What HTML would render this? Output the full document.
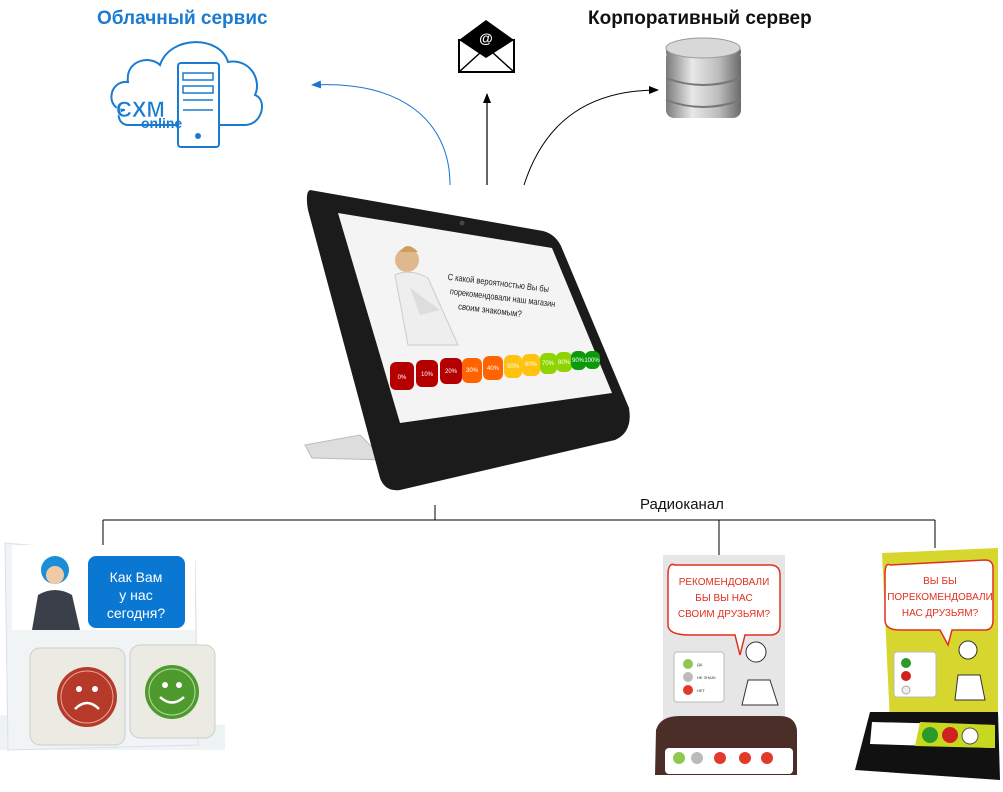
<!DOCTYPE html>
<html><head><meta charset="utf-8"><style>
body{margin:0;background:#fff;width:1003px;height:787px;overflow:hidden;font-family:"Liberation Sans",sans-serif}
</style></head><body>
<svg width="1003" height="787" viewBox="0 0 1003 787" xmlns="http://www.w3.org/2000/svg" font-family="Liberation Sans, sans-serif">
<defs>
<marker id="ab" markerWidth="10" markerHeight="8" refX="9" refY="4" orient="auto" markerUnits="userSpaceOnUse"><path d="M0,0L10,4L0,8z" fill="#1a73d0"/></marker>
<marker id="ak" markerWidth="10" markerHeight="8" refX="9" refY="4" orient="auto" markerUnits="userSpaceOnUse"><path d="M0,0L10,4L0,8z" fill="#000"/></marker>
<linearGradient id="db" x1="0" x2="1"><stop offset="0" stop-color="#7a7a7a"/><stop offset=".35" stop-color="#e8e8e8"/><stop offset=".7" stop-color="#bdbdbd"/><stop offset="1" stop-color="#6a6a6a"/></linearGradient>
</defs>
<text x="97" y="24" font-size="19" font-weight="bold" fill="#1a7bd0">Облачный сервис</text>
<text x="588" y="24" font-size="19" font-weight="bold" fill="#111">Корпоративный сервер</text>
<!-- cloud -->
<path d="M125,110 C105,110 108,80 128,82 C125,60 150,55 160,65 C170,35 220,35 228,62 C250,58 262,80 255,95 C268,100 262,125 245,125 L220,125 M180,125 L128,125 C118,125 115,110 125,110" fill="none" stroke="#1a7bd0" stroke-width="2"/>
<rect x="178" y="63" width="41" height="84" rx="3" fill="#fff" stroke="#1a7bd0" stroke-width="2"/>
<rect x="183" y="73" width="30" height="7" fill="none" stroke="#1a7bd0" stroke-width="1.5"/>
<rect x="183" y="86" width="30" height="7" fill="none" stroke="#1a7bd0" stroke-width="1.5"/>
<line x1="183" y1="100" x2="213" y2="100" stroke="#1a7bd0" stroke-width="1.5"/><line x1="183" y1="110" x2="213" y2="110" stroke="#1a7bd0" stroke-width="1.5"/>
<circle cx="198" cy="136" r="3" fill="#1a7bd0"/>
<text x="116" y="117" font-size="22" font-weight="bold" fill="#1a7bd0" stroke="#fff" stroke-width="0.5">CXM</text>
<text x="141" y="128" font-size="14" font-weight="bold" fill="#1a7bd0">online</text>
<!-- envelope -->
<rect x="459" y="40" width="55" height="32" fill="#fff" stroke="#000" stroke-width="2"/>
<path d="M459,40 L486,20 L514,40 L486,58z" fill="#000"/>
<path d="M459,72 L481,52 M514,72 L492,52" stroke="#000" stroke-width="1.5"/>
<text x="486" y="43" font-size="14" font-weight="bold" fill="#fff" text-anchor="middle">@</text>
<!-- database -->
<g>
<rect x="666" y="50" width="75" height="68" rx="8" fill="url(#db)"/>
<rect x="666" y="44" width="75" height="16" rx="8" fill="url(#db)"/>
<ellipse cx="703" cy="48" rx="37" ry="10" fill="#d8d8d8" stroke="#999"/>
<path d="M666,78 Q703,92 741,78 M666,100 Q703,114 741,100" stroke="#777" stroke-width="2" fill="none"/>
</g>
<!-- arrows -->
<path d="M450,185 C450,120 400,80 312,85" fill="none" stroke="#1a73d0" stroke-width="1" marker-end="url(#ab)"/>
<line x1="487" y1="185" x2="487" y2="94" stroke="#000" stroke-width="1.2" marker-end="url(#ak)"/>
<path d="M524,185 C545,120 590,90 658,90" fill="none" stroke="#000" stroke-width="1" marker-end="url(#ak)"/>
<!-- tablet -->
<path d="M305,445 L360,435 L385,460 L312,458 Z" fill="#ddd" stroke="#bbb"/>
<path d="M310,190 L543,231 Q555,234 561,246 L629,408 Q633,432 615,440 L400,490 Q385,492 380,478 L308,210 Q305,192 310,190Z" fill="#1b1b1b"/>
<path d="M338,213 L552,248 L612,393 L400,423 Z" fill="#f4f4f4"/>
<circle cx="462" cy="223" r="2.5" fill="#444"/>
<!-- man -->
<circle cx="407" cy="260" r="12" fill="#e0b890"/>
<path d="M400,252 Q407,240 418,252" fill="#c9a060"/>
<path d="M395,275 Q410,268 428,278 L458,345 L408,345 Z" fill="#eeeeee" stroke="#ccc"/>
<path d="M410,288 L440,310 L420,315 Z" fill="#ddd"/>
<g transform="rotate(7 450 275)" font-size="9" fill="#222">
<text x="448" y="280" textLength="102" lengthAdjust="spacingAndGlyphs">С какой вероятностью Вы бы</text>
<text x="452" y="294" textLength="106" lengthAdjust="spacingAndGlyphs">порекомендовали наш магазин</text>
<text x="462" y="308" textLength="64" lengthAdjust="spacingAndGlyphs">своим знакомым?</text>
</g>
<g font-size="6" fill="#fff" text-anchor="middle">
<rect x="390" y="362" width="24" height="28" rx="6" fill="#b50000"/><text x="402" y="379">0%</text>
<rect x="416" y="360" width="22" height="27" rx="6" fill="#b50000"/><text x="427" y="376">10%</text>
<rect x="440" y="358" width="22" height="26" rx="6" fill="#b50000"/><text x="451" y="373">20%</text>
<rect x="462" y="358" width="20" height="25" rx="6" fill="#ff6400"/><text x="472" y="372">30%</text>
<rect x="483" y="356" width="20" height="24" rx="6" fill="#ff6400"/><text x="493" y="370">40%</text>
<rect x="504" y="355" width="18" height="23" rx="6" fill="#ffc20e"/><text x="513" y="368">50%</text>
<rect x="522" y="354" width="18" height="22" rx="6" fill="#ffc20e"/><text x="531" y="366">60%</text>
<rect x="540" y="353" width="17" height="21" rx="6" fill="#8fd400"/><text x="548" y="365">70%</text>
<rect x="556" y="352" width="16" height="20" rx="6" fill="#8fd400"/><text x="564" y="364">80%</text>
<rect x="571" y="351" width="15" height="19" rx="6" fill="#0a9a0a"/><text x="578" y="362">90%</text>
<rect x="585" y="351" width="15" height="18" rx="6" fill="#0a9a0a"/><text x="592" y="362">100%</text>
</g>
<!-- radio lines -->
<g stroke="#000" stroke-width="1" fill="none">
<line x1="103" y1="520" x2="935" y2="520"/>
<line x1="103" y1="520" x2="103" y2="545"/>
<line x1="435" y1="505" x2="435" y2="520"/>
<line x1="719" y1="520" x2="719" y2="555"/>
<line x1="935" y1="520" x2="935" y2="548"/>
</g>
<text x="640" y="509" font-size="15" fill="#111">Радиоканал</text>
<!-- left device -->
<path d="M0,715 L225,725 L225,750 L0,750Z" fill="#eef3f3"/>
<path d="M5,543 L195,560 L198,745 L8,750Z" fill="#f0f4f4" stroke="#dde" />
<rect x="12" y="545" width="183" height="85" fill="#fff"/>
<rect x="88" y="556" width="97" height="72" rx="8" fill="#0a78d2"/>
<text x="136" y="582" font-size="14" fill="#fff" text-anchor="middle">Как Вам</text>
<text x="136" y="600" font-size="14" fill="#fff" text-anchor="middle">у нас</text>
<text x="136" y="618" font-size="14" fill="#fff" text-anchor="middle">сегодня?</text>
<circle cx="55" cy="570" r="14" fill="#1a8fd8"/>
<circle cx="55" cy="575" r="9" fill="#f1c9a5"/>
<path d="M32,630 L38,595 Q55,585 72,595 L80,630Z" fill="#3b3f4a"/>
<rect x="30" y="648" width="95" height="97" rx="10" fill="#ebebe4" stroke="#ccc"/>
<rect x="130" y="645" width="85" height="93" rx="10" fill="#ebebe4" stroke="#ccc"/>
<circle cx="87" cy="697" r="30" fill="#b63a2a"/>
<circle cx="87" cy="697" r="26" fill="none" stroke="#e8a89c" stroke-width="1"/>
<circle cx="79" cy="689" r="3" fill="#fff"/><circle cx="95" cy="689" r="3" fill="#fff"/>
<path d="M75,709 Q87,697 99,709" stroke="#fff" stroke-width="2.5" fill="none"/>
<circle cx="172" cy="692" r="27" fill="#4e9a2c"/>
<circle cx="172" cy="692" r="23" fill="none" stroke="#b8dca8"/>
<circle cx="165" cy="685" r="3" fill="#fff"/><circle cx="179" cy="685" r="3" fill="#fff"/>
<path d="M160,697 Q172,708 184,697" stroke="#fff" stroke-width="2.5" fill="none"/>
<!-- right device 1 -->
<rect x="663" y="555" width="122" height="170" fill="#e6e6e6"/>
<path d="M675,565 Q668,562 668,575 L668,625 Q668,635 690,635 L735,635 L740,655 L745,635 L770,635 Q780,635 780,625 L780,575 Q780,565 770,565Z" fill="#fff" stroke="#e0301f" stroke-width="1.5"/>
<g font-size="10" fill="#e0301f" text-anchor="middle"><text x="724" y="585">РЕКОМЕНДОВАЛИ</text><text x="724" y="601">БЫ ВЫ НАС</text><text x="724" y="617">СВОИМ ДРУЗЬЯМ?</text></g>
<rect x="674" y="652" width="50" height="50" rx="3" fill="#fff" stroke="#bbb"/>
<circle cx="688" cy="664" r="5" fill="#8fc84f"/><circle cx="688" cy="677" r="5" fill="#bbb"/><circle cx="688" cy="690" r="5" fill="#e03a2a"/>
<g font-size="4" fill="#333"><text x="697" y="666">ДА</text><text x="697" y="679">НЕ ЗНАЮ</text><text x="697" y="692">НЕТ</text></g>
<circle cx="756" cy="652" r="10" fill="#fff" stroke="#333"/><path d="M748,680 L770,680 L778,705 L742,705Z" fill="#fff" stroke="#333"/>
<path d="M656,730 Q660,716 680,716 L780,716 Q795,716 797,730 L797,775 L655,775Z" fill="#4a2e27"/>
<rect x="665" y="748" width="128" height="26" rx="4" fill="#fff"/>
<g><circle cx="679" cy="758" r="6" fill="#8fc84f"/><circle cx="697" cy="758" r="6" fill="#bbb"/><circle cx="720" cy="758" r="6" fill="#e03a2a"/><circle cx="745" cy="758" r="6" fill="#e03a2a"/><circle cx="767" cy="758" r="6" fill="#e03a2a"/></g>
<!-- right device 2 -->
<path d="M882,553 L998,548 L998,722 L890,722Z" fill="#d6d62e"/>
<path d="M890,565 Q885,562 885,575 L885,620 Q885,630 900,630 L940,630 L948,645 L952,630 L985,630 Q993,630 993,620 L993,568 Q993,560 985,560Z" fill="#fff" stroke="#e0301f" stroke-width="1.5"/>
<g font-size="10" fill="#e0301f" text-anchor="middle"><text x="940" y="584">ВЫ БЫ</text><text x="940" y="600">ПОРЕКОМЕНДОВАЛИ</text><text x="940" y="616">НАС ДРУЗЬЯМ?</text></g>
<rect x="894" y="652" width="42" height="45" rx="3" fill="#fff" stroke="#bbb"/>
<circle cx="906" cy="663" r="5" fill="#2a9a2a"/><circle cx="906" cy="676" r="5" fill="#d02020"/><circle cx="906" cy="690" r="4" fill="#eee" stroke="#aaa"/>
<circle cx="968" cy="650" r="9" fill="#fff" stroke="#333"/><path d="M958,675 L980,675 L985,700 L955,700Z" fill="#fff" stroke="#333"/>
<path d="M870,712 L998,712 L1000,780 L855,770Z" fill="#111"/>
<path d="M872,722 L995,725 L995,748 L870,744Z" fill="#fff"/>
<path d="M920,722 L995,725 L995,748 L915,746Z" fill="#c8d81e"/>
<circle cx="930" cy="735" r="8" fill="#2a9a2a"/><circle cx="950" cy="735" r="8" fill="#d02020"/><circle cx="970" cy="736" r="8" fill="#fff" stroke="#555"/>
</svg>
</body></html>
